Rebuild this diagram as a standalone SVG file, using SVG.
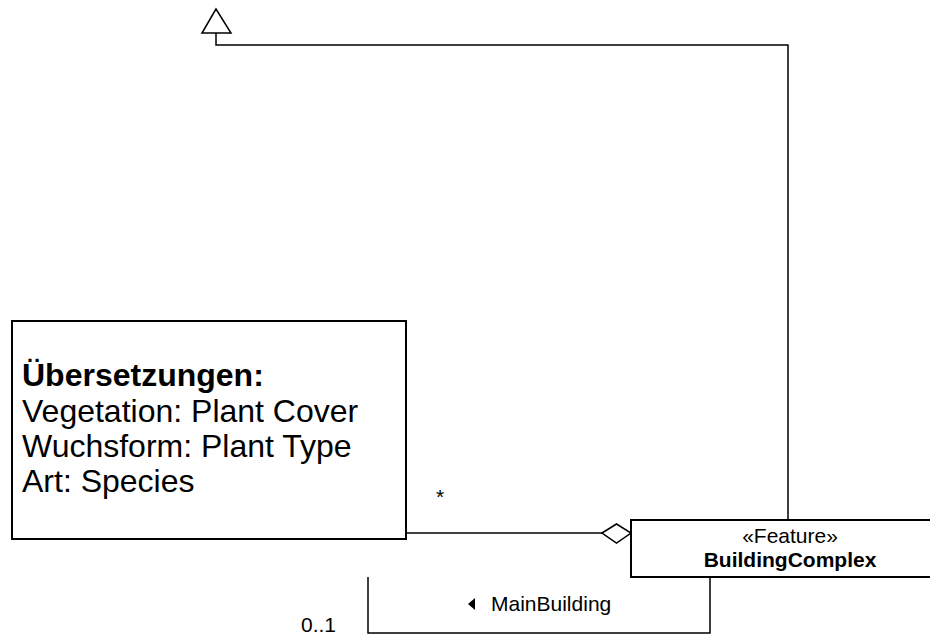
<svg xmlns="http://www.w3.org/2000/svg" width="930" height="638" viewBox="0 0 930 638">
<style>
.box{fill:#fff;stroke:#000;stroke-width:2}
.ln{fill:none;stroke:#000;stroke-width:1.5}
.t{font-family:"Liberation Sans",Arial,sans-serif;fill:#000}
.n{font-size:32px}
.s{font-size:21px}
.b{font-weight:bold}
</style>
<rect width="930" height="638" fill="#fff"/>
<g id="connectors">
<polyline class="ln" points="788,520 788,45 216,45 216,33"/>
<polygon points="216,9 202,33 231,33" fill="#fff" stroke="#000" stroke-width="1.5"/>
<line class="ln" x1="406" y1="533" x2="602" y2="533"/>
<polygon points="602,533 616.5,524 631,533 616.5,543" fill="#fff" stroke="#000" stroke-width="1.5"/>
<polyline class="ln" points="710,577 710,633 368,633 368,577"/>
<polygon points="468,604 475,598 475,610" fill="#000"/>
<text class="t s" x="491" y="611">MainBuilding</text>
<text class="t s" x="436" y="504">*</text>
<text class="t s" x="301" y="632">0..1</text>
</g>
<g id="note">
<rect class="box" x="12" y="321" width="394" height="218"/>
<text class="t n b" x="22" y="386">Übersetzungen:</text>
<text class="t n" x="22" y="422">Vegetation: Plant Cover</text>
<text class="t n" x="22" y="457">Wuchsform: Plant Type</text>
<text class="t n" x="22" y="492">Art: Species</text>
</g>
<g id="BuildingComplex">
<rect class="box" x="631" y="520" width="318" height="57"/>
<text class="t s" x="790" y="543" text-anchor="middle">«Feature»</text>
<text class="t s b" x="790" y="567" text-anchor="middle">BuildingComplex</text>
</g>
</svg>
